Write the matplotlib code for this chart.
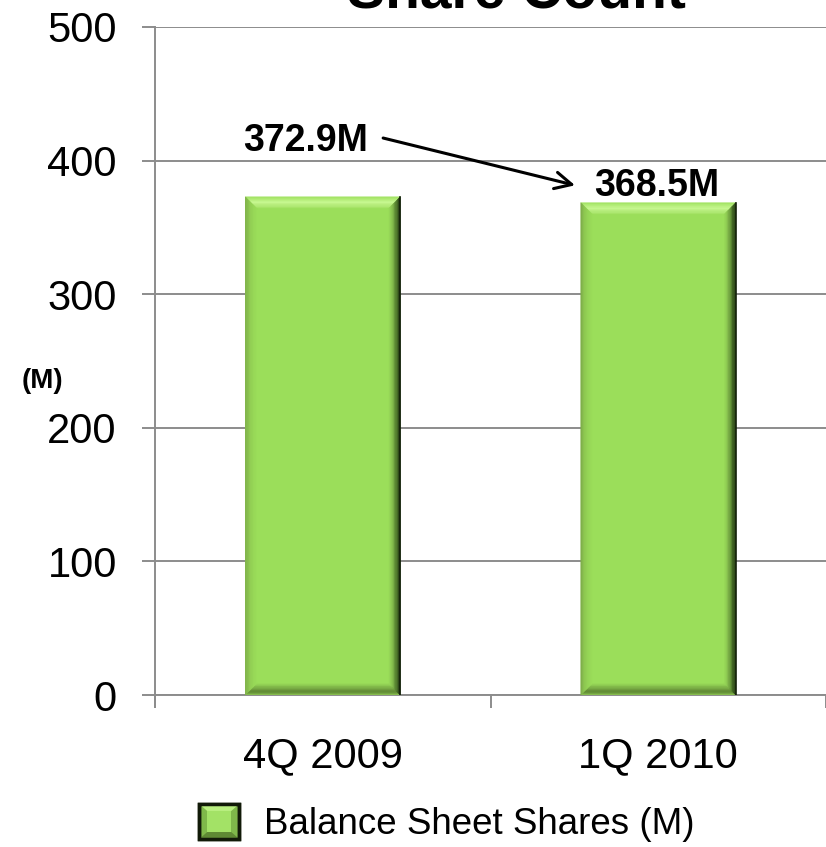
import matplotlib
matplotlib.use('Agg')
import matplotlib.pyplot as plt
from matplotlib.patches import Polygon, Rectangle
from matplotlib.legend_handler import HandlerPatch
from matplotlib.colors import to_rgb
import numpy as np

plt.rcParams['font.family'] = ['Liberation Sans', 'DejaVu Sans']

# share count data
quarters = ['4Q 2009', '1Q 2010']
shares = [372.9, 368.5]
series_name = 'Balance Sheet Shares (M)'
y_ticks = [0, 100, 200, 300, 400, 500]

FACE = '#9bde5a'
GRID = '#8c8c8c'
BEVEL_PX = 13
# colour ramps for each bevel side, outer edge -> inner face
RAMPS = {
    'top': ['#a4e466', '#b6ef7c', '#c8f891', '#bff286', '#aee872', FACE],
    'left': ['#7faf4a', '#8fca52', '#97d757', FACE],
    'right': ['#1c2e0e', '#3d5f22', '#5f8d36', '#7fb549', '#92d055', FACE],
    'bottom': ['#86bc4e', '#5e8633', '#6a953b', '#7bb046', '#8ecb52', FACE],
}


def ramp(colors, n):
    cols = np.array([to_rgb(c) for c in colors])
    t = np.linspace(0, 1, len(cols))
    s = np.linspace(0, 1, n)
    return [tuple(np.interp(v, t, cols[:, k]) for k in range(3)) for v in s]


def bevel_bar(ax, patch, bevel_px=BEVEL_PX, steps=10):
    """draw a raised bevel frame over a plain bar"""
    x0, y0 = patch.get_x(), patch.get_y()
    x1, y1 = x0 + patch.get_width(), y0 + patch.get_height()
    xl, yl = ax.get_xlim(), ax.get_ylim()
    dx = bevel_px * (xl[1] - xl[0]) / ax.bbox.width
    dy = bevel_px * (yl[1] - yl[0]) / ax.bbox.height

    def ring(f):
        # corners of the rectangle inset by fraction f of the bevel
        return (x0 + dx * f, y0 + dy * f, x1 - dx * f, y1 - dy * f)

    for side in ['top', 'bottom', 'left', 'right']:
        cols = ramp(RAMPS[side], steps)
        for i in range(steps):
            a0, b0, a1, b1 = ring(i / steps)
            c0, d0, c1, d1 = ring((i + 1) / steps)
            if side == 'top':
                pts = [(a0, b1), (a1, b1), (c1, d1), (c0, d1)]
            elif side == 'bottom':
                pts = [(a0, b0), (a1, b0), (c1, d0), (c0, d0)]
            elif side == 'left':
                pts = [(a0, b0), (a0, b1), (c0, d1), (c0, d0)]
            else:
                pts = [(a1, b0), (a1, b1), (c1, d1), (c1, d0)]
            ax.add_patch(Polygon(pts, closed=True, facecolor=cols[i],
                                 edgecolor=cols[i], lw=0.3, zorder=3))
    ax.plot([x1, x1], [y0, y1], color='#14220a', lw=1.2, zorder=4)


class BevelHandler(HandlerPatch):
    def create_artists(self, legend, orig_handle, xdescent, ydescent, width, height, fontsize, trans):
        x, y = -xdescent, -ydescent
        outer = Rectangle((x, y), width, height, facecolor='#7fb84a',
                          edgecolor='#111a08', linewidth=2.5, transform=trans)
        m = 0.2
        top = Polygon([(x, y + height), (x + width, y + height),
                       (x + width * (1 - m), y + height * (1 - m)), (x + width * m, y + height * (1 - m))],
                      closed=True, facecolor='#b9ef80', edgecolor='none', transform=trans)
        bottom = Polygon([(x, y), (x + width, y),
                          (x + width * (1 - m), y + height * m), (x + width * m, y + height * m)],
                         closed=True, facecolor='#5f8a34', edgecolor='none', transform=trans)
        inner = Rectangle((x + width * m, y + height * m), width * (1 - 2 * m), height * (1 - 2 * m),
                          facecolor='#a3e266', edgecolor='none', transform=trans)
        border = Rectangle((x, y), width, height, facecolor='none',
                           edgecolor='#111a08', linewidth=2.5, transform=trans)
        return [outer, top, bottom, inner, border]


fig = plt.figure(figsize=(8.26, 8.47), dpi=100)
ax = fig.add_axes([155 / 826, 152 / 847, 671 / 826, 668 / 847])
ax.set_xlim(-0.5, 1.5)
ax.set_ylim(0, 500)

pos = np.arange(len(quarters))
bars = ax.bar(pos, shares, width=0.462, color=FACE, zorder=2, label=series_name)
for b in bars:
    bevel_bar(ax, b)

ax.set_yticks(y_ticks)
ax.yaxis.grid(True, color=GRID, linewidth=1.4)
ax.set_axisbelow(True)
for s in ['top', 'right']:
    ax.spines[s].set_visible(False)
for s in ['left', 'bottom']:
    ax.spines[s].set_color(GRID)
    ax.spines[s].set_linewidth(1.4)

ax.set_xticks(pos)
ax.set_xticklabels(quarters)
ax.set_xticks([-0.5, 0.5, 1.5], minor=True)
ax.tick_params(axis='x', which='major', length=0, pad=30, labelsize=30)
ax.tick_params(axis='x', which='minor', length=9, width=1.4, color=GRID)
ax.tick_params(axis='y', length=9.5, width=1.4, color=GRID, pad=18, labelsize=30)
ax.spines['left'].set_bounds(-9, 500)

# value labels with the change arrow between them
ax.text(-0.05, shares[0] + 42, f'{shares[0]}M', fontsize=27, fontweight='bold',
        ha='center', va='center')
ax.text(0.996, shares[1] + 12.5, f'{shares[1]}M', fontsize=27, fontweight='bold',
        ha='center', va='center')
ax.annotate('', xy=(0.752, shares[1] + 13), xytext=(0.18, shares[0] + 44),
            arrowprops=dict(arrowstyle='->', lw=2.2, color='black', mutation_scale=30,
                            shrinkA=0, shrinkB=0))

fig.text(42 / 826, 1 - 381 / 847, '(M)', fontsize=20, fontweight='bold',
         ha='center', va='center')
fig.text(516 / 826, 1 - 8 / 847, 'Share Count', fontsize=41, fontweight='bold',
         ha='center', va='baseline')

fig.legend(handles=[bars.patches[0]], labels=[series_name], loc='center',
           bbox_to_anchor=(447 / 826, 1 - 823 / 847), frameon=False, fontsize=26.5,
           handlelength=1.09, handleheight=1.09, handletextpad=0.68,
           handler_map={bars.patches[0]: BevelHandler()})

fig.savefig('out.png', dpi=100)
